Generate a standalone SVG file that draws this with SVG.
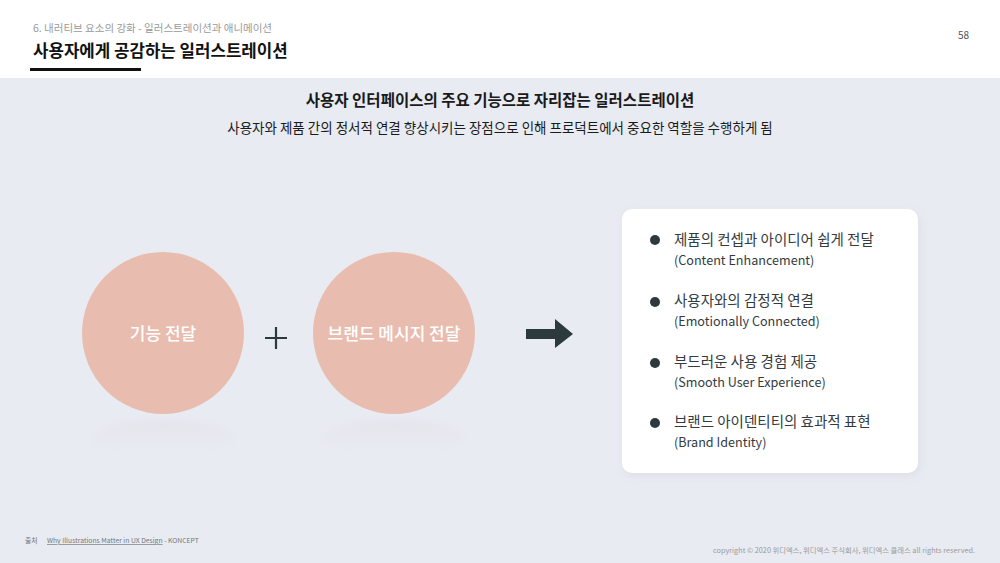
<svg xmlns="http://www.w3.org/2000/svg" width="1000" height="563" viewBox="0 0 1000 563">
<defs>
<style>
text{font-family:"Noto Sans CJK KR","Noto Sans",sans-serif}
.circ{fill:#e8bdb0}
.ct{fill:#ffffff;font-size:17px;font-weight:500;text-anchor:middle}
.bk{fill:#333b3f;font-size:14.5px}
.en{fill:#333b3f;font-size:12.6px}
.dot{fill:#2d3a3d}
</style>
<linearGradient id="refl" x1="0" y1="0" x2="0" y2="1">
<stop offset="0" stop-color="#dcdde2" stop-opacity="0.45"/>
<stop offset="1" stop-color="#e8ebf1" stop-opacity="0"/>
</linearGradient>
<filter id="sh" x="-10%" y="-10%" width="120%" height="120%">
<feGaussianBlur stdDeviation="4"/>
</filter>
<filter id="blur" x="-20%" y="-50%" width="140%" height="200%">
<feGaussianBlur stdDeviation="3"/>
</filter>
</defs>
<rect width="1000" height="563" fill="#e8ebf1"/>
<rect width="1000" height="78" fill="#ffffff"/>
<text x="33" y="32" font-size="10.5" fill="#9a9a9a">6. 내러티브 요소의 강화 - 일러스트레이션과 애니메이션</text>
<text x="33" y="57" font-size="16.8" font-weight="700" fill="#111">사용자에게 공감하는 일러스트레이션</text>
<rect x="30" y="68" width="111" height="3" fill="#111"/>
<text x="958" y="39" font-size="10" fill="#555">58</text>
<text x="500" y="106" font-size="15.5" font-weight="700" fill="#1a1a1a" text-anchor="middle">사용자 인터페이스의 주요 기능으로 자리잡는 일러스트레이션</text>
<text x="500" y="133" font-size="13.5" fill="#1a1a1a" text-anchor="middle">사용자와 제품 간의 정서적 연결 향상시키는 장점으로 인해 프로덕트에서 중요한 역할을 수행하게 됨</text>

<g id="reflections" filter="url(#blur)">
<ellipse cx="163" cy="440" rx="72" ry="20" fill="url(#refl)"/>
<ellipse cx="394" cy="440" rx="72" ry="20" fill="url(#refl)"/>
</g>
<g id="node-func">
<circle class="circ" cx="163" cy="333" r="81"/>
<text class="ct" x="163" y="340">기능 전달</text>
</g>
<g id="plus">
<path d="M265 338 H287 M276 327 V349" stroke="#2d3a3d" stroke-width="2.2" fill="none"/>
</g>
<g id="node-brand">
<circle class="circ" cx="394" cy="333" r="81"/>
<text class="ct" x="394" y="340">브랜드 메시지 전달</text>
</g>
<g id="connectors">
<polygon points="526,329 555,329 555,319 573,334 555,348 555,339 526,339" fill="#2d3a3d"/>
</g>
<g id="node-card">
<rect x="624" y="212" width="296" height="264" rx="10" fill="#d5d8de" filter="url(#sh)" opacity="0.6"/>
<rect x="622" y="209" width="296" height="264" rx="10" fill="#ffffff"/>
<circle class="dot" cx="655" cy="240" r="5"/>
<text class="bk" x="674" y="245">제품의 컨셉과 아이디어 쉽게 전달</text>
<text class="en" x="674" y="265">(Content Enhancement)</text>
<circle class="dot" cx="655" cy="302" r="5"/>
<text class="bk" x="674" y="306">사용자와의 감정적 연결</text>
<text class="en" x="674" y="326">(Emotionally Connected)</text>
<circle class="dot" cx="655" cy="363" r="5"/>
<text class="bk" x="674" y="367">부드러운 사용 경험 제공</text>
<text class="en" x="674" y="387">(Smooth User Experience)</text>
<circle class="dot" cx="655" cy="423" r="5"/>
<text class="bk" x="674" y="427">브랜드 아이덴티티의 효과적 표현</text>
<text class="en" x="674" y="447">(Brand Identity)</text>
</g>
<text x="25" y="543" font-size="6.8" fill="#777">출처</text>
<text x="47" y="543" font-size="6.8" fill="#777"><tspan text-decoration="underline">Why Illustrations Matter in UX Design</tspan> - KONCEPT</text>
<text x="975" y="553" font-size="7.3" fill="#9a9a9a" text-anchor="end">copyright © 2020  위디엑스, 위디엑스 주식회사, 위디엑스 클래스 all rights reserved.</text>
</svg>
